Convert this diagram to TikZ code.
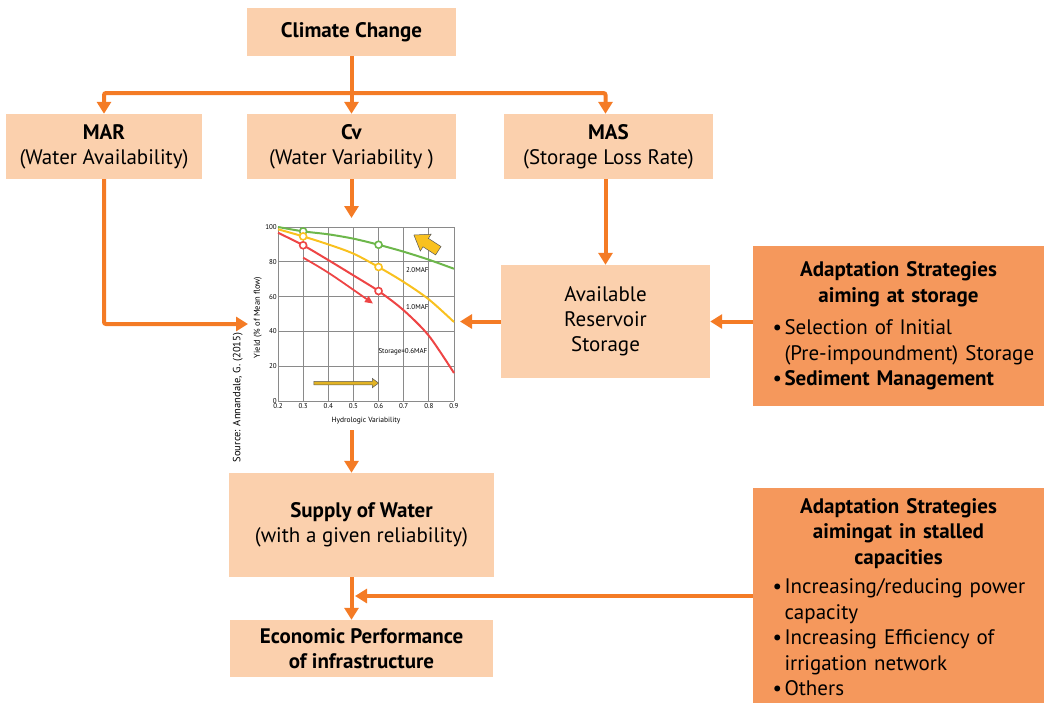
\documentclass[tikz,border=0pt]{standalone}
\usepackage{fontspec}
\setmainfont{PT Sans}
\usetikzlibrary{positioning,arrows.meta,calc}
\definecolor{peach}{HTML}{FBD0AD}
\definecolor{deeporange}{HTML}{F5985C}
\definecolor{flow}{HTML}{F47B25}
\definecolor{gridgray}{HTML}{8A8A8A}
\definecolor{curvegreen}{HTML}{6DB74B}
\definecolor{curveyellow}{HTML}{F9C11F}
\definecolor{curvered}{HTML}{EE4545}
\definecolor{goldarrow}{HTML}{E2B324}
\tikzstyle{box}=[fill=peach,inner sep=0pt,align=center,font=\fontsize{21}{25}\selectfont]
\tikzstyle{strat}=[fill=deeporange,inner sep=0pt,font=\fontsize{21}{25.5}\selectfont]
\tikzstyle{arr}=[draw=flow,line width=4pt,rounded corners=2pt,-{Triangle[length=12pt,width=14pt]}]
\tikzstyle{tick}=[font=\fontsize{7}{8}\selectfont,inner sep=1pt]
\tikzstyle{ring}=[circle,draw,fill=white,line width=1.6pt,inner sep=0pt,minimum size=7pt]
\newcommand{\itemline}[1]{\par\hangindent=22pt\hangafter=1\noindent\hspace*{10pt}\makebox[12pt][l]{\textbullet}#1}
\hyphenpenalty=10000

\begin{document}
\begin{tikzpicture}[x=1pt,y=-1pt]
	\useasboundingbox (0,0) rectangle (1044,702);
%
	\node[box,minimum width=209pt,minimum height=48pt] at (351.5,32) (clim) {\textbf{Climate Change}};
	\node[box,minimum width=196pt,minimum height=65pt] at (104,146.5) (mar) {\textbf{MAR}\\(Water Availability)};
	\node[box,minimum width=209pt,minimum height=65pt] at (351.5,146.5) (cv) {\textbf{Cv}\\(Water Variability )};
	\node[box,minimum width=209pt,minimum height=65pt] at (608.5,146.5) (mas) {\textbf{MAS}\\(Storage Loss Rate)};
	\node[box,minimum width=209pt,minimum height=113pt] at (605.5,321.5) (avail) {Available\\Reservoir\\Storage};
	\node[box,minimum width=265pt,minimum height=104pt] at (361.5,525) (supply) {\textbf{Supply of Water}\\(with a given reliability)};
	\node[box,minimum width=263pt,minimum height=57pt] at (361.5,648.5) (econ) {\textbf{Economic Performance}\\\textbf{of infrastructure}};
%
	\node[strat,minimum width=291pt,minimum height=160pt,text width=272pt] at (898.5,326) (adstore) {%
		{\centering\bfseries Adaptation Strategies\\aiming at storage\par}
		\vspace{7pt}
		\itemline{Selection of Initial\newline(Pre-impoundment) Storage}
		\itemline{\textbf{Sediment Management}}};
	\node[strat,minimum width=291pt,minimum height=218pt,text width=272pt] at (898.5,597) (adinst) {%
		{\centering\bfseries Adaptation Strategies\\aimingat in stalled\\capacities\par}
		\vspace{4pt}
		\itemline{Increasing/reducing power\newline capacity}
		\itemline{Increasing Efficiency of\newline irrigation network}
		\itemline{Others}};
%
	% yield chart, 0.2..0.9 on x, 0..100 on y
	\begin{scope}[shift={(278,401)},x=25.14pt,y=1.74pt]
		\foreach \i in {0,...,7} {
			\draw[gridgray,line width=0.8pt] (\i,0) -- (\i,100);
		}
		\foreach \j in {0,20,...,100} {
			\draw[gridgray,line width=0.8pt] (0,\j) -- (7,\j);
			\node[tick,anchor=east] at (0,\j) (yt\j) {\j};
		}
		\foreach \i/\v in {0/0.2,1/0.3,2/0.4,3/0.5,4/0.6,5/0.7,6/0.8,7/0.9} {
			\node[tick,anchor=north] at (\i,-1) (xt\i) {\v};
		}
		\node[font=\fontsize{7.5}{9}\selectfont] at (3.5,-11.5) (xlab) {Hydrologic Variability};
		\node[font=\fontsize{8.5}{9}\selectfont,rotate=90] at (-0.8,48) (ylab) {Yield (\% of Mean flow)};
		\node[font=\fontsize{10.5}{11}\selectfont,rotate=90] at (-1.6,2) (src) {Source: Annandale, G. (2015)};
%
		\draw[curvegreen,line width=2pt] plot[smooth] coordinates {(0,100) (1,97.5) (2,95.8) (3,93.3) (4,89.8) (5,85.8) (6,81.2) (7,76)};
		\draw[curveyellow,line width=2pt] plot[smooth] coordinates {(0,98.7) (1,94.6) (2,90) (3,84.7) (4,77) (5,68.4) (6,58.4) (7,45.4)};
		\draw[curvered,line width=2pt] plot[smooth] coordinates {(0,96.7) (1,89.5) (2,81) (3,72.2) (4,63.2) (5,52.1) (6,37.5) (7,16.1)};
		\draw[curvered,line width=1.8pt,-{Triangle[length=8pt,width=7pt]}] (1,82.4) .. controls (2,74) .. (3.78,56);
%
		\node[ring,draw=curvegreen] at (1,97.5) (g1) {};
		\node[ring,draw=curvegreen] at (4,89.8) (g2) {};
		\node[ring,draw=curveyellow] at (1,94.6) (y1) {};
		\node[ring,draw=curveyellow] at (4,77) (y2) {};
		\node[ring,draw=curvered] at (1,89.5) (r1) {};
		\node[ring,draw=curvered] at (4,63.2) (r2) {};
%
		\node[tick,anchor=west] at (5.05,75.5) (maf2) {2.0MAF};
		\node[tick,anchor=west] at (5.05,54) (maf1) {1.0MAF};
		\node[tick,anchor=west] at (3.95,28.5) (maf06) {Storage=0.6MAF};
%
		\draw[draw=black!65,fill=goldarrow,line width=0.5pt] (1.43,9.3) -- (3.75,9.3) -- (3.75,7.6) -- (4.0,10.3) -- (3.75,13) -- (3.75,11.3) -- (1.43,11.3) -- cycle;
	\end{scope}
	\draw[draw=black!65,fill=curveyellow,line width=0.5pt] (413.9,235.0) -- (431.1,234.2) -- (428.4,238.4) -- (441.0,246.5) -- (435.6,254.9) -- (423.0,246.8) -- (420.3,251.0) -- cycle;
%
	\coordinate (split) at (351.5,93);
	\coordinate (cn) at (351.5,218);
	\coordinate (cs) at (351.5,430);
	\coordinate (cw) at (248,324);
	\coordinate (ce) at (460,321.5);
	\coordinate (join) at (355,596);
%
	\draw[arr] (clim.south) -- (cv.north);
	\draw[arr] (split) -| (mar.north);
	\draw[arr] (split) -| (mas.north -| avail.north);
	\draw[arr] (mar.south) |- (cw);
	\draw[arr] (cv.south) -- (cn);
	\draw[arr] (mas.south -| avail.north) -- (avail.north);
	\draw[arr] (avail.west) -- (ce);
	\draw[arr] (adstore.west |- avail.east) -- (avail.east);
	\draw[arr] (cs) -- (cs |- supply.north);
	\draw[arr] (supply.south -| cs) -- (econ.north -| cs);
	\draw[arr] (adinst.west |- join) -- (join);
\end{tikzpicture}
\end{document}
